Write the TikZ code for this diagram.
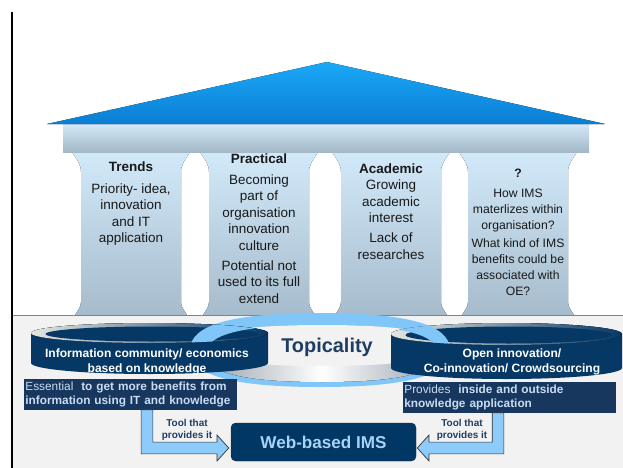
\documentclass[tikz,border=0pt]{standalone}
\usepackage{fontspec}
\setmainfont{Liberation Sans}
\usetikzlibrary{calc,positioning}

\definecolor{roofblue}{HTML}{1AA8F8}
\definecolor{roofdark}{HTML}{0B7ED3}
\definecolor{beamtop}{HTML}{D3E9F9}
\definecolor{beambot}{HTML}{A3B7C6}
\definecolor{coltop}{HTML}{D2E9FA}
\definecolor{colbot}{HTML}{A6BCCC}
\definecolor{panelgray}{HTML}{F2F2F2}
\definecolor{panelline}{HTML}{6F889E}
\definecolor{navy}{HTML}{063866}
\definecolor{rimgray}{HTML}{E6E6DF}
\definecolor{boxnavy}{HTML}{17375E}
\definecolor{boxtext}{HTML}{C9DCF2}
\definecolor{imsnavy}{HTML}{003764}
\definecolor{imstext}{HTML}{A8D3F5}
\definecolor{ringblue}{HTML}{80C6F8}
\definecolor{ringsilver}{HTML}{98A3AE}
\definecolor{arrowblue}{HTML}{8DCBFA}
\definecolor{labelnavy}{HTML}{1F3D64}

% rounded-box outline of the ring: centre x, centre y, x radius, y radius
\newcommand{\ringpath}[4]{%
  ({#1-#3},{#2}) .. controls ({#1-#3},{#2-0.68*#4}) and ({#1-0.68*#3},{#2-#4}) .. ({#1},{#2-#4})
  .. controls ({#1+0.68*#3},{#2-#4}) and ({#1+#3},{#2-0.68*#4}) .. ({#1+#3},{#2})
  .. controls ({#1+#3},{#2+0.68*#4}) and ({#1+0.68*#3},{#2+#4}) .. ({#1},{#2+#4})
  .. controls ({#1-0.68*#3},{#2+#4}) and ({#1-#3},{#2+0.68*#4}) .. ({#1-#3},{#2}) -- cycle}

\begin{document}
\begin{tikzpicture}[x=0.3mm,y=-0.3mm,line join=round,
    pillartext/.style={anchor=north,align=center,inner sep=0pt,text=black!90,
      font=\fontsize{11.5}{14.1}\selectfont},
    cyltext/.style={align=center,inner sep=0pt,text=white,
      font=\bfseries\fontsize{10.3}{12.8}\selectfont},
    notebox/.style={anchor=north west,fill=boxnavy,text=boxtext,align=left,
      text width=63mm,inner xsep=1pt,inner ysep=2pt,
      font=\fontsize{10.1}{12.4}\selectfont},
    imsbox/.style={fill=imsnavy,draw=black!80,rounded corners=4pt,text=imstext,
      minimum width=55.5mm,minimum height=11.4mm,
      font=\bfseries\fontsize{14.6}{16}\selectfont},
    toollabel/.style={align=center,inner sep=0pt,text=labelnavy,
      font=\bfseries\fontsize{8.5}{10.2}\selectfont},
    fatarrow/.style={fill=arrowblue,draw=black!80,line width=0.6pt,line join=miter}]
  \useasboundingbox (0,0) rectangle (623,468);

  % pillars
  \foreach \c in {131,259,391,518}
    \fill[top color=coltop,bottom color=colbot]
      (\c-59,152) .. controls (\c-54,160) and (\c-50,164) .. (\c-50,172) -- (\c-50,302)
      .. controls (\c-50,307) and (\c-53,310) .. (\c-56,315) -- (\c+56,315)
      .. controls (\c+53,310) and (\c+50,307) .. (\c+50,302) -- (\c+50,172)
      .. controls (\c+50,164) and (\c+54,160) .. (\c+59,152) -- cycle;
  % beam and roof
  \fill[top color=beamtop,bottom color=beambot] (63,124) rectangle (589,152);
  \fill[top color=roofblue,bottom color=roofdark] (47,124) -- (327,62) -- (605,124) -- cycle;

  % floor panel
  \fill[panelgray] (12,315) rectangle (623,468);
  \draw[panelline,line width=0.8pt] (12,315) -- (623,315);
  \draw[black,line width=1pt] (12,12) -- (12,468);

  % ring
  \fill[ringblue] \ringpath{320}{350}{130}{37};
  \fill[left color=ringsilver,right color=ringsilver,middle color=white] \ringpath{322}{353.5}{116}{28.5};
  \fill[panelgray] \ringpath{322}{345.5}{116}{20.5};

  % the two cylinders
  \foreach \cx/\rx/\ty/\by/\ry in {149.5/118.5/333/363/10, 506.5/115.5/334/368/11}{
    \fill[navy] (\cx-\rx,\ty) -- (\cx-\rx,\by)
      arc[start angle=180,end angle=0,x radius=\rx,y radius=11] -- (\cx+\rx,\ty)
      arc[start angle=0,end angle=-180,x radius=\rx,y radius=\ry] -- cycle;
    \fill[left color=rimgray,right color=navy] (\cx,\ty) ellipse[x radius=\rx,y radius=\ry];
    \fill[navy] (\cx+2.5,\ty+1) ellipse[x radius=\rx-12,y radius=\ry-2.5];
  }
  % ring band passing over the cylinder tops
  \begin{scope}
    \clip (149.5,333) ellipse[x radius=118.5,y radius=10]
          (506.5,334) ellipse[x radius=115.5,y radius=11];
    \fill[ringblue,even odd rule] \ringpath{320}{350}{130}{37} \ringpath{322}{353.5}{116}{28.5};
  \end{scope}

  % pillar texts
  \node[pillartext] (trends) at (131,162) {\textbf{Trends}\\[4pt]Priority- idea,\\innovation\\and IT\\application};
  \node[pillartext] (practical) at (259,153) {\textbf{Practical}\\[4pt]Becoming\\part of\\organisation\\innovation\\culture\\[3pt]Potential not\\used to its full\\extend};
  \node[pillartext] (academic) at (391,163) {\textbf{Academic}\\Growing\\academic\\interest\\[3pt]Lack of\\researches};
  \node[pillartext,font=\fontsize{10.4}{13.7}\selectfont] (question) at (518,169)
    {\textbf{?}\\[3pt]How IMS\\materlizes within\\organisation?\\[2pt]What kind of IMS\\benefits could be\\associated with\\OE?};

  % cylinder labels and centre text
  \node[cyltext] (info) at (147,361.5) {Information community/ economics\\based on knowledge};
  \node[cyltext] (open) at (512,361.5) {Open innovation/\\Co-innovation/ Crowdsourcing};
  \node[text=labelnavy,font=\bfseries\fontsize{17}{20}\selectfont] (topic) at (327,347) {Topicality};

  % notes, target and arrows
  \node[notebox] (essential) at (24,379) {Essential\ \ \textbf{to get more benefits from}\\\textbf{information using IT and knowledge}};
  \node[notebox] (provides) at (403,382) {Provides\ \ \textbf{inside and outside}\\\textbf{knowledge application}};
  \node[imsbox] (ims) at (323.5,442) {Web-based IMS};

  \coordinate (lstem) at ($(essential.south west)+(123,0)$);
  \coordinate (ltip) at ($(ims.west)+(-2,6)$);
  \coordinate (rstem) at ($(provides.south west)+(95,0)$);
  \coordinate (rtip) at ($(ims.east)+(1,6)$);
  \draw[fatarrow] let \p1=(lstem), \p2=(ltip) in
    (\x1-5pt,\y1) -- (\x1+5pt,\y1) -- (\x1+5pt,\y2+5pt) -- (\x2-10pt,\y2+5pt) -- (\x2-10pt,\y2+11pt)
    -- (\x2,\y2) -- (\x2-10pt,\y2-11pt) -- (\x2-10pt,\y2-5pt) -- (\x1-5pt,\y2-5pt) -- cycle;
  \draw[fatarrow] let \p1=(rstem), \p2=(rtip) in
    (\x1+5pt,\y1) -- (\x1-5pt,\y1) -- (\x1-5pt,\y2+5pt) -- (\x2+10pt,\y2+5pt) -- (\x2+10pt,\y2+11pt)
    -- (\x2,\y2) -- (\x2+10pt,\y2-11pt) -- (\x2+10pt,\y2-5pt) -- (\x1+5pt,\y2-5pt) -- cycle;
  \node[toollabel] (ltool) at (187,430) {Tool that\\provides it};
  \node[toollabel] (rtool) at (462,430) {Tool that\\provides it};
\end{tikzpicture}
\end{document}
